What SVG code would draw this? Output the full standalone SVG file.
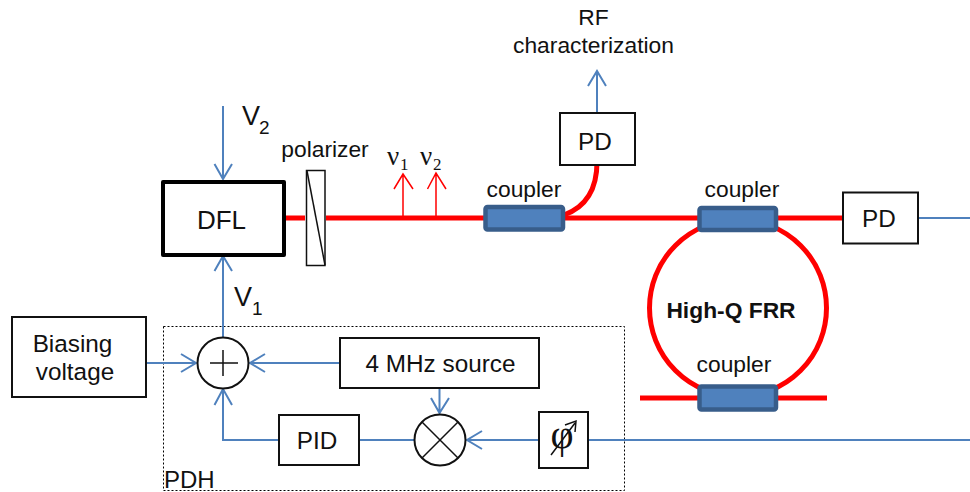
<svg xmlns="http://www.w3.org/2000/svg" width="970" height="492" viewBox="0 0 970 492">
<style>
text{font-family:"Liberation Sans",Arial,sans-serif;fill:#111;}
.l{font-size:24.300px;text-anchor:middle}
.m{font-size:22.800px;text-anchor:middle}
.box{fill:#fff;stroke:#111;stroke-width:2}
.b{fill:none;stroke:#4f81bd;stroke-width:2}
.r{fill:none;stroke:#f00;stroke-width:5}
.t{fill:none;stroke:#f00;stroke-width:1.500}
.c{fill:#4f81bd;stroke:#385d8a;stroke-width:4.500}
.k{fill:none;stroke:#111;stroke-width:1.500}
.g{font-family:"Liberation Serif","Times New Roman",serif}
</style>
<rect width="970" height="492" fill="#fff"/>
<g id="connectors">
<rect x="163.500" y="326.500" width="461" height="164" fill="none" stroke="#000" stroke-width="1" stroke-dasharray="2 2"/>
<path class="r" d="M284 218H305M326 218H484M564 218H698M778 218H843"/>
<path class="r" d="M564 215C586 207 597 190 597 162"/>
<circle class="r" cx="738" cy="308" r="88.500"/>
<path class="r" d="M640 398H698M778 398H827"/>
<path class="t" d="M403 218V174M394 189L403 174L413 189"/>
<path class="t" d="M436 218V173M427.500 189L436 173L446 189"/>
<path class="b" d="M597 112V71M588 86L597 71L606 86"/>
<path class="b" d="M223 106V178M214.500 164L223 179L232 164"/>
<path class="b" d="M223 338V256M214.500 271L223 256L232 271"/>
<path class="b" d="M146 363H196M181 354L196 363L181 372"/>
<path class="b" d="M340 363H250M265 354L250 363L265 372"/>
<path class="b" d="M278 440H223V389M214.500 405L223 389L232 405"/>
<path class="b" d="M360 440H414"/>
<path class="b" d="M539 440H467M482 431L467 440L482 449"/>
<path class="b" d="M439.500 388V413M431 398L439.500 413L449 398"/>
<path class="b" d="M586 440H970"/>
<path class="b" d="M918 218H970"/>
</g>
<g id="dfl"><rect x="163" y="182" width="121" height="73" fill="#fff" stroke="#000" stroke-width="4" stroke-linejoin="round"/><text x="221.500" y="229" font-size="26" text-anchor="middle">DFL</text></g>
<g id="polarizer"><rect x="306.500" y="170.500" width="18.500" height="95" fill="#fff" stroke="#111" stroke-width="1.500"/><path class="k" d="M307 171L325 265"/><text class="m" x="325" y="157">polarizer</text></g>
<g id="v2-label"><text x="242" y="125" font-size="27">V</text><text x="259" y="134" font-size="19">2</text></g>
<g id="v1-label"><text x="234" y="306" font-size="27">V</text><text x="252" y="315" font-size="19">1</text></g>
<g id="nu1"><text class="g" x="387" y="165" font-size="27">ν</text><text class="g" x="400" y="170" font-size="17">1</text></g>
<g id="nu2"><text class="g" x="420" y="165" font-size="27">ν</text><text class="g" x="433" y="170" font-size="17">2</text></g>
<g id="rf-label"><text class="m" x="593.500" y="25">RF</text><text class="m" x="593.500" y="53">characterization</text></g>
<g id="pd1"><rect class="box" x="560" y="113" width="75" height="52"/><text class="l" x="595" y="150">PD</text></g>
<g id="coupler1"><rect class="c" x="485.500" y="207" width="77.500" height="22.500" rx="2"/><text class="m" x="524" y="197">coupler</text></g>
<g id="coupler2"><rect class="c" x="699.500" y="208" width="76.500" height="22" rx="2"/><text class="m" x="742" y="197">coupler</text></g>
<g id="coupler3"><rect class="c" x="699.500" y="386.500" width="76.500" height="23" rx="2"/><text class="m" x="734" y="372">coupler</text></g>
<g id="frr-label"><text x="731" y="318" font-size="22.800" font-weight="bold" text-anchor="middle">High-Q FRR</text></g>
<g id="pd2"><rect class="box" x="843" y="192.500" width="75" height="51"/><text class="l" x="879" y="227">PD</text></g>
<g id="bias"><rect class="box" x="12" y="317" width="134" height="80"/><text class="l" x="72.500" y="352">Biasing</text><text class="l" x="75" y="380">voltage</text></g>
<g id="sum"><circle cx="223" cy="363" r="25.500" fill="#fff" stroke="#111" stroke-width="2"/><path stroke="#111" stroke-width="1.500" d="M210 363H238M223 350V376"/></g>
<g id="source"><rect class="box" x="340" y="338" width="199" height="50"/><text class="l" x="440.500" y="372">4 MHz source</text></g>
<g id="pid"><rect class="box" x="279" y="415" width="80" height="50"/><text class="l" x="317" y="449">PID</text></g>
<g id="mixer"><circle cx="440" cy="440" r="25.500" fill="#fff" stroke="#111" stroke-width="2"/><path class="k" d="M422 422L458 458M458 422L422 458"/></g>
<g id="phase"><rect class="box" x="539" y="412" width="49" height="56"/><text class="g" x="562" y="448" font-size="40" text-anchor="middle">φ</text><path stroke="#111" stroke-width="1.500" fill="none" d="M551 455L575 423M565 425L576 421L575 432"/></g>
<g id="pdh-label"><text x="164" y="488" font-size="24">PDH</text></g>
</svg>
